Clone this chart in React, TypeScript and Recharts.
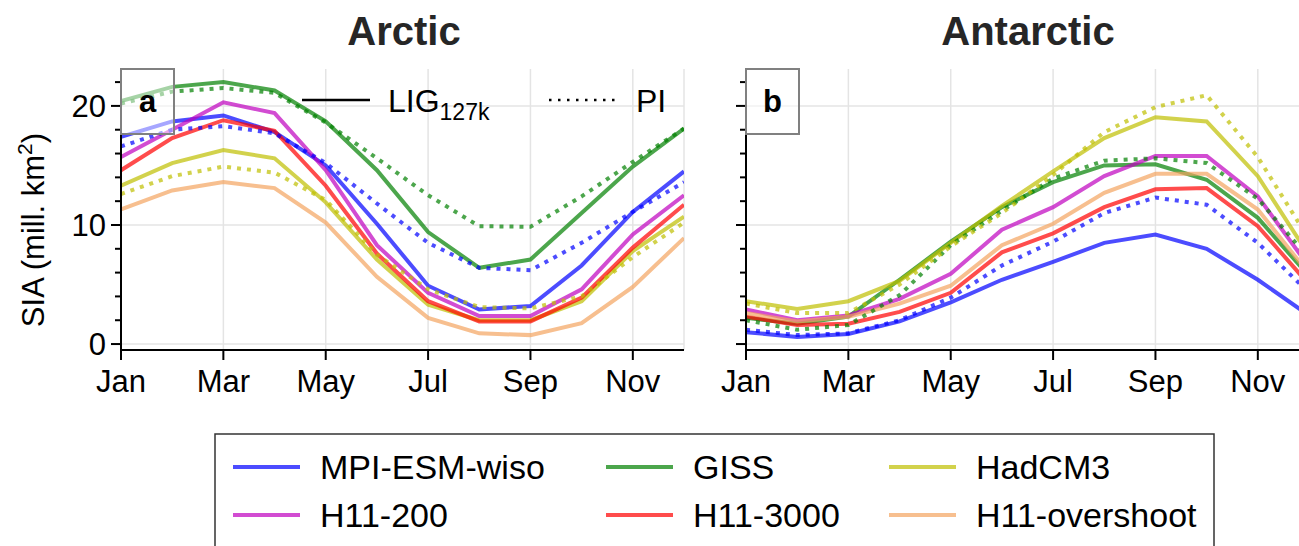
import { CartesianGrid, Line, LineChart, XAxis, YAxis } from "recharts";

const monthNames = ["Jan", "Feb", "Mar", "Apr", "May", "Jun", "Jul", "Aug", "Sep", "Oct", "Nov", "Dec"];
const monthTicks = [0, 2, 4, 6, 8, 10];
const yTicks = [0, 2, 4, 6, 8, 10, 12, 14, 16, 18, 20, 22];

// Arctic sea-ice area, million km2, Jan..Dec
const arcticMpiLig = [17.4, 18.7, 19.2, 17.8, 15.0, 10.1, 4.9, 2.9, 3.2, 6.6, 11.1, 14.5];
const arcticMpiPi = [16.6, 18.0, 18.3, 17.7, 15.2, 11.8, 8.5, 6.4, 6.2, 8.5, 11.1, 13.6];
const arcticGissLig = [20.4, 21.6, 22.0, 21.3, 18.7, 14.6, 9.4, 6.4, 7.1, 11.0, 14.9, 18.1];
const arcticGissPi = [20.2, 21.2, 21.5, 21.1, 18.6, 15.6, 12.5, 9.9, 9.85, 12.4, 15.3, 18.1];
const arcticHadLig = [13.3, 15.2, 16.3, 15.6, 11.9, 7.1, 3.3, 2.0, 2.0, 3.6, 7.8, 10.7];
const arcticHadPi = [12.6, 14.1, 14.9, 14.4, 12.1, 7.5, 4.6, 3.1, 3.0, 4.0, 7.3, 10.2];
const arcticH200 = [15.7, 18.0, 20.3, 19.4, 14.6, 8.3, 4.3, 2.35, 2.35, 4.6, 9.2, 12.5];
const arcticH3000 = [14.6, 17.3, 18.8, 17.9, 13.3, 7.6, 3.6, 1.9, 1.9, 3.9, 8.1, 11.7];
const arcticHOver = [11.3, 12.9, 13.6, 13.1, 10.2, 5.65, 2.2, 0.9, 0.75, 1.75, 4.8, 8.9];

// Antarctic sea-ice area, million km2, Jan..Dec
const antarcticMpiLig = [1.0, 0.6, 0.84, 1.9, 3.5, 5.4, 6.9, 8.5, 9.2, 8.0, 5.4, 2.4];
const antarcticMpiPi = [1.2, 0.75, 0.9, 2.0, 3.9, 6.6, 8.6, 11.0, 12.3, 11.7, 8.5, 4.3];
const antarcticGissLig = [2.2, 1.7, 2.3, 5.4, 8.6, 11.5, 13.6, 15.0, 15.1, 13.8, 10.6, 5.7];
const antarcticGissPi = [2.0, 1.2, 1.6, 4.1, 8.3, 11.2, 13.9, 15.4, 15.6, 15.2, 12.2, 7.2];
const antarcticHadLig = [3.6, 2.95, 3.6, 5.3, 8.5, 11.6, 14.5, 17.3, 19.05, 18.7, 14.1, 7.45];
const antarcticHadPi = [3.4, 2.6, 2.6, 5.0, 8.2, 11.0, 14.2, 17.8, 19.9, 20.9, 15.7, 8.8];
const antarcticH200 = [2.9, 2.0, 2.4, 3.8, 5.9, 9.6, 11.5, 14.1, 15.8, 15.8, 12.4, 6.5];
const antarcticH3000 = [2.3, 1.6, 1.7, 2.7, 4.3, 7.7, 9.3, 11.5, 13.0, 13.1, 9.9, 5.0];
const antarcticHOver = [2.6, 1.9, 2.3, 3.4, 4.9, 8.3, 10.1, 12.7, 14.3, 14.3, 11.3, 5.9];

type SeriesDef = { key: string; color: string; dotted: boolean };

// solid = LIG127k, dotted = PI; later entries sit on top
const SERIES: SeriesDef[] = [
  { key: "mpiLig", color: "#0000ff", dotted: false },
  { key: "gissLig", color: "#008000", dotted: false },
  { key: "hadLig", color: "#bfbf00", dotted: false },
  { key: "h200", color: "#bf00bf", dotted: false },
  { key: "h3000", color: "#ff0000", dotted: false },
  { key: "hOver", color: "#f4a460", dotted: false },
  { key: "mpiPi", color: "#0000ff", dotted: true },
  { key: "gissPi", color: "#008000", dotted: true },
  { key: "hadPi", color: "#bfbf00", dotted: true },
];

const LEGEND = [
  { name: "MPI-ESM-wiso", color: "#0000ff", x: 233, y: 467 },
  { name: "GISS", color: "#008000", x: 606, y: 467 },
  { name: "HadCM3", color: "#bfbf00", x: 889, y: 467 },
  { name: "H11-200", color: "#bf00bf", x: 233, y: 515 },
  { name: "H11-3000", color: "#ff0000", x: 606, y: 515 },
  { name: "H11-overshoot", color: "#f4a460", x: 889, y: 515 },
];

function buildRows(cols: Record<string, number[]>) {
  return monthNames.map((_, i) => {
    const row: Record<string, number> = { month: i };
    Object.keys(cols).forEach((k) => (row[k] = cols[k][i]));
    return row;
  });
}

const arcticRows = buildRows({
  mpiLig: arcticMpiLig, mpiPi: arcticMpiPi, gissLig: arcticGissLig, gissPi: arcticGissPi,
  hadLig: arcticHadLig, hadPi: arcticHadPi, h200: arcticH200, h3000: arcticH3000, hOver: arcticHOver,
});
const antarcticRows = buildRows({
  mpiLig: antarcticMpiLig, mpiPi: antarcticMpiPi, gissLig: antarcticGissLig, gissPi: antarcticGissPi,
  hadLig: antarcticHadLig, hadPi: antarcticHadPi, h200: antarcticH200, h3000: antarcticH3000, hOver: antarcticHOver,
});

const FONT = "'Liberation Sans', Arial, Helvetica, sans-serif";
const Y_DOMAIN: [number, number] = [-0.5, 23.1];

function YTick(props: any) {
  const { x, y, payload, showLabel } = props;
  const major = payload.value % 10 === 0;
  return (
    <g>
      <line x1={x - (major ? 10 : 6)} x2={x} y1={y} y2={y} stroke="#000" strokeWidth={2} />
      {showLabel && major && (
        <text x={x - 15} y={y} dy="0.36em" textAnchor="end" fontSize={31} fill="#000" fontFamily={FONT}>
          {payload.value}
        </text>
      )}
    </g>
  );
}

function SeaIcePanel({ rows, left, showYLabels }: { rows: any[]; left: number; showYLabels: boolean }) {
  return (
    <div style={{ position: "absolute", left, top: 0 }}>
      <LineChart width={700} height={420} data={rows} margin={{ top: 69, right: 16, bottom: 10, left: 0 }}>
        <CartesianGrid horizontalValues={[0, 10, 20]} stroke="#e4e4e4" strokeWidth={1.5} />
        <XAxis
          dataKey="month"
          type="number"
          domain={[0, 11]}
          ticks={monthTicks}
          interval={0}
          tickFormatter={(v: number) => monthNames[v]}
          height={60}
          tickSize={10}
          tickMargin={10}
          tick={{ fontSize: 31, fill: "#000", fontFamily: FONT }}
          axisLine={{ stroke: "#000", strokeWidth: 2 }}
          tickLine={{ stroke: "#000", strokeWidth: 2 }}
          allowDataOverflow
        />
        <XAxis
          xAxisId="top"
          orientation="top"
          dataKey="month"
          type="number"
          domain={[0, 11]}
          height={0}
          tick={false}
          tickLine={false}
          axisLine={{ stroke: "#000", strokeWidth: 2 }}
        />
        <YAxis
          type="number"
          domain={Y_DOMAIN}
          ticks={yTicks}
          interval={0}
          width={121}
          tickSize={0}
          tickMargin={0}
          tickLine={false}
          tick={(p: any) => <YTick {...p} showLabel={showYLabels} />}
          axisLine={{ stroke: "#000", strokeWidth: 2 }}
          allowDataOverflow
        />
        <YAxis
          yAxisId="right"
          orientation="right"
          type="number"
          domain={Y_DOMAIN}
          width={0}
          tick={false}
          tickLine={false}
          axisLine={{ stroke: "#000", strokeWidth: 2 }}
        />
        {SERIES.map((s) => (
          <Line
            key={s.key}
            type="linear"
            dataKey={s.key}
            stroke={s.color}
            strokeOpacity={0.7}
            strokeWidth={4}
            strokeDasharray={s.dotted ? "4 6" : undefined}
            dot={false}
            activeDot={false}
            isAnimationActive={false}
          />
        ))}
      </LineChart>
    </div>
  );
}

function PanelTag({ x, label }: { x: number; label: string }) {
  return (
    <g>
      <rect x={x} y={69} width={53} height={65} fill="#fff" fillOpacity={0.5} stroke="#808080" strokeWidth={2} />
      <text x={x + 26.5} y={112} textAnchor="middle" fontSize={31} fontWeight="bold" fill="#000">
        {label}
      </text>
    </g>
  );
}

export default function App() {
  return (
    <div
      style={{
        position: "absolute",
        left: 0,
        top: 0,
        width: 1299,
        height: 546,
        overflow: "hidden",
        background: "#fff",
        fontFamily: FONT,
      }}
    >
      <SeaIcePanel rows={arcticRows} left={0} showYLabels />
      <SeaIcePanel rows={antarcticRows} left={625} showYLabels={false} />
      <svg
        width={1299}
        height={546}
        style={{ position: "absolute", left: 0, top: 0, pointerEvents: "none", fontFamily: FONT }}
      >
        <text x={404} y={45} textAnchor="middle" fontSize={40} fontWeight="bold" fill="#262626">
          Arctic
        </text>
        <text x={1028} y={45} textAnchor="middle" fontSize={40} fontWeight="bold" fill="#262626">
          Antarctic
        </text>
        <text transform="translate(44,230) rotate(-90)" textAnchor="middle" fontSize={31} fill="#000">
          SIA (mill. km
          <tspan dy={-12} fontSize={21}>2</tspan>
          <tspan dy={12}>)</tspan>
        </text>

        <PanelTag x={121} label="a" />
        <PanelTag x={746} label="b" />

        {/* line-style key inside panel a */}
        <line x1={302} x2={370} y1={100} y2={100} stroke="#000" strokeWidth={2.5} />
        <text x={388} y={112} fontSize={32} fill="#000">
          LIG
          <tspan dy={8} fontSize={23}>127k</tspan>
        </text>
        <line x1={549} x2={618} y1={100} y2={100} stroke="#000" strokeWidth={2.5} strokeDasharray="2.5 6.5" />
        <text x={636} y={112} fontSize={32} fill="#000">
          PI
        </text>

        {/* model legend */}
        <rect x={215} y={434} width={999} height={140} fill="#fff" stroke="#333" strokeWidth={1.5} />
        {LEGEND.map((e) => (
          <g key={e.name}>
            <line x1={e.x} x2={e.x + 67} y1={e.y} y2={e.y} stroke={e.color} strokeOpacity={0.7} strokeWidth={4} />
            <text x={e.x + 87} y={e.y + 12} fontSize={34} fill="#000">
              {e.name}
            </text>
          </g>
        ))}
      </svg>
    </div>
  );
}
